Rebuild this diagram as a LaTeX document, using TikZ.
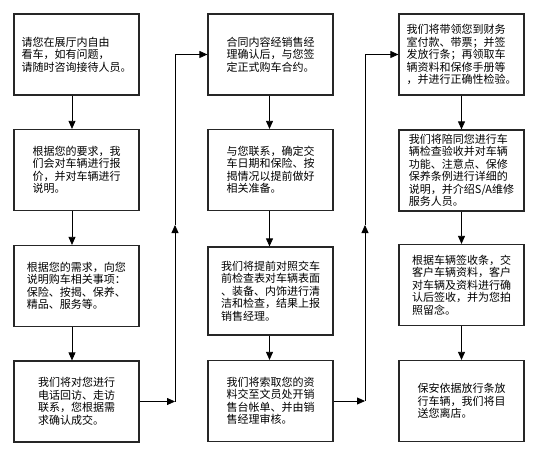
\documentclass[tikz,border=0pt]{standalone}
\usepackage{fontspec}
\setmainfont{Noto Sans CJK SC}
\usetikzlibrary{arrows.meta}

\begin{document}
\begin{tikzpicture}[x=1pt,y=-1pt,
  stepbox/.style={draw=black!85,line width=1.2pt,minimum width=125pt,minimum height=81pt,
    align=left,inner sep=0pt,font=\fontsize{11}{12.5}\selectfont},
  arr/.style={-{Triangle[length=8pt,width=7pt]},line width=0.8pt}]

\useasboundingbox (0,0) rectangle (538,457);

% first column
\node[stepbox] (b1) at (76.5,54.5) {请您在展厅内自由\\看车，如有问题，\\请随时咨询接待人员。};
\node[stepbox] (b2) at (76.5,170) {根据您的要求，我\\们会对车辆进行报\\价，并对车辆进行\\说明。};
\node[stepbox] (b3) at (76.5,286) {根据您的需求，向您\\说明购车相关事项：\\保险、按揭、保养、\\精品、服务等。};
\node[stepbox] (b4) at (76.5,401.5) {我们将对您进行\\电话回访、走访\\联系，您根据需\\求确认成交。};

% second column
\node[stepbox] (b5) at (270.5,54.5) {合同内容经销售经\\理确认后，与您签\\定正式购车合约。};
\node[stepbox] (b6) at (270.5,170) {与您联系，确定交\\车日期和保险、按\\揭情况以提前做好\\相关准备。};
\node[stepbox,minimum height=88pt] (b7) at (270.5,291) {我们将提前对照交车\\前检查表对车辆表面\\、装备、内饰进行清\\洁和检查，结果上报\\销售经理。};
\node[stepbox] (b8) at (270.5,401) {我们将索取您的资\\料交至文员处开销\\售台帐单、并由销\\售经理审核。};

% third column
\node[stepbox] (b9) at (461.5,54.5) {我们将带领您到财务\\室付款、带票；并签\\发放行条；再领取车\\辆资料和保修手册等\\，并进行正确性检验。};
\node[stepbox] (b10) at (461.5,170.5) {我们将陪同您进行车\\辆检查验收并对车辆\\功能、注意点、保修\\保养条例进行详细的\\说明，并介绍S/A维修\\服务人员。};
\node[stepbox] (b11) at (461.5,285) {根据车辆签收条，交\\客户车辆资料，客户\\对车辆及资料进行确\\认后签收，并为您拍\\照留念。};
\node[stepbox] (b12) at (461.5,401) {保安依据放行条放\\行车辆，我们将目\\送您离店。};

% arrows down
\draw[arr] ([xshift=-4.5pt]b1.south) -- ([xshift=-4.5pt]b2.north);
\draw[arr] ([xshift=-4.5pt]b2.south) -- ([xshift=-4.5pt]b3.north);
\draw[arr] ([xshift=-4.5pt]b3.south) -- ([xshift=-4.5pt]b4.north);
\draw[arr] ([xshift=-1pt]b5.south) -- ([xshift=-1pt]b6.north);
\draw[arr] ([xshift=-1pt]b6.south) -- ([xshift=-1pt]b7.north);
\draw[arr] ([xshift=-1pt]b7.south) -- ([xshift=-1pt]b8.north);
\draw[arr] (b9.south) -- (b10.north);
\draw[arr] (b10.south) -- (b11.north);
\draw[arr] (b11.south) -- (b12.north);

% links between columns
\coordinate (j1) at (175,401.5);
\coordinate (m1) at (175,225);
\coordinate (t1) at (175,54.5);
\draw[arr] (b4.east) -- (j1);
\draw[arr] (j1) -- (m1);
\draw[line width=0.8pt] (m1) -- (t1);
\draw[arr] (t1) -- (b5.west);

\coordinate (j2) at (365,401);
\coordinate (m2) at (365,225);
\coordinate (t2) at (365,54.5);
\draw[arr] (b8.east) -- (j2);
\draw[arr] (j2) -- (m2);
\draw[line width=0.8pt] (m2) -- (t2);
\draw[arr] (t2) -- (b9.west);

\end{tikzpicture}
\end{document}
